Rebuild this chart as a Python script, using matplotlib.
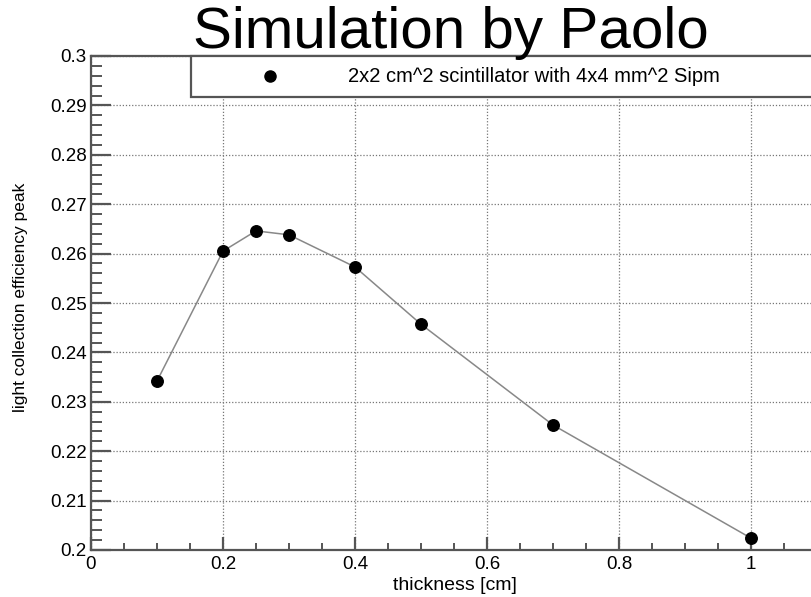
import matplotlib.pyplot as plt
from matplotlib.ticker import MultipleLocator, FixedLocator, FuncFormatter
from matplotlib.lines import Line2D

plt.rcParams['font.family'] = ['Liberation Sans', 'DejaVu Sans']

# espesor del centelleador y eficiencia de coleccion
espesor_cm = [0.1, 0.2, 0.25, 0.3, 0.4, 0.5, 0.7, 1.0]
eficiencia = [0.2342, 0.2605, 0.2646, 0.2638, 0.2573, 0.2457, 0.2253, 0.2024]
ticks_x = [0, 0.2, 0.4, 0.6, 0.8, 1.0]

titulo = "Simulation by Paolo"
etiqueta_serie = "2x2 cm^2 scintillator with 4x4 mm^2 Sipm"

W, H = 812, 597
fig = plt.figure(figsize=(W / 100, H / 100), dpi=100)

# ejes como en ROOT: el lado derecho queda fuera del recorte
x0, x1 = 91, 943
y0, y1 = 550, 56
ax = fig.add_axes([x0 / W, 1 - y0 / H, (x1 - x0) / W, (y0 - y1) / H])
ax.set_xlim(0, (x1 - x0) / 660)
ax.set_ylim(0.2, 0.3)

color_eje = "#555555"
for lado in ["left", "bottom", "top", "right"]:
    ax.spines[lado].set_color(color_eje)
    ax.spines[lado].set_linewidth(1.6)

ax.xaxis.set_major_locator(FixedLocator(ticks_x))
ax.xaxis.set_minor_locator(MultipleLocator(0.05))
ax.yaxis.set_major_locator(MultipleLocator(0.01))
ax.yaxis.set_minor_locator(MultipleLocator(0.002))

fmt = FuncFormatter(lambda v, p: f"{v:.2f}".rstrip("0").rstrip(".") if abs(v) > 1e-9 else "0")
ax.xaxis.set_major_formatter(fmt)
ax.yaxis.set_major_formatter(fmt)

ax.tick_params(axis="y", which="major", direction="in", length=14.5, width=1.6,
               color=color_eje, labelsize=13.5, pad=3)
ax.tick_params(axis="y", which="minor", direction="in", length=8, width=1.4, color=color_eje)
ax.tick_params(axis="x", which="major", direction="in", length=9.5, width=1.6,
               color=color_eje, labelsize=13.5, pad=4)
ax.tick_params(axis="x", which="minor", direction="in", length=5, width=1.4, color=color_eje)

ax.grid(True, which="major", linestyle=(0, (1, 1.5)), linewidth=0.9, color="#777777")
ax.set_axisbelow(True)

ax.plot(espesor_cm, eficiencia, color="#888888", linewidth=1.1, zorder=3)
ax.plot(espesor_cm, eficiencia, "o", color="black", markersize=8.3, zorder=4, clip_on=False)

# caja de leyenda estilo ROOT
lx0 = (191 - x0) / (x1 - x0)
ly0 = (y0 - 97) / (y0 - y1)
caja = plt.Rectangle((lx0, ly0), 1 - lx0 + 0.01, 1 - ly0, transform=ax.transAxes,
                     facecolor="white", edgecolor=color_eje, linewidth=1.6, zorder=5,
                     clip_on=False)
ax.add_patch(caja)
ax.add_line(Line2D([(270 - x0) / (x1 - x0)], [(y0 - 76) / (y0 - y1)], marker="o",
                   color="black", markersize=8, transform=ax.transAxes, zorder=6))
ax.text((348 - x0) / (x1 - x0), (y0 - 76) / (y0 - y1), etiqueta_serie,
        transform=ax.transAxes, fontsize=14.5, va="center", ha="left", zorder=6)

fig.text(451 / W, 1 - 33 / H, titulo, fontsize=42, ha="center", va="center")
fig.text(455 / W, 1 - 585 / H, "thickness [cm]", fontsize=14, ha="center", va="center")
fig.text(21 / W, 1 - 297 / H, "light collection efficiency peak", fontsize=12.5,
         ha="center", va="center", rotation=90)

fig.savefig("out.png", dpi=100)
